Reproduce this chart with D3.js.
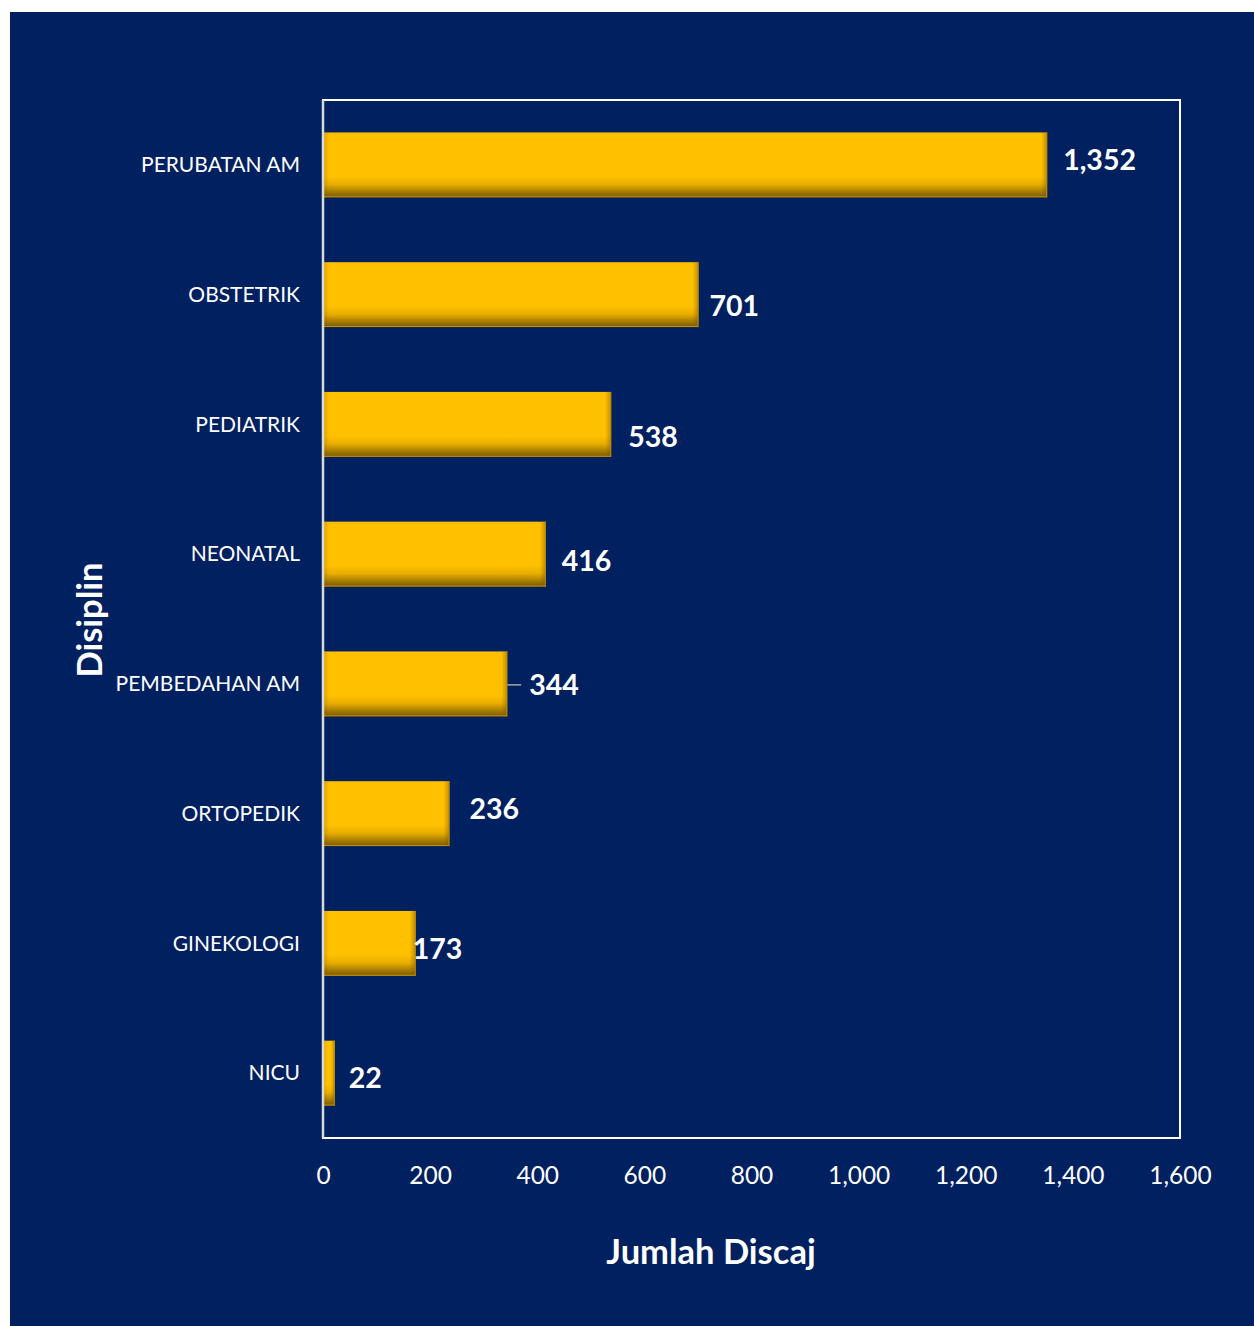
<!DOCTYPE html>
<html><head><meta charset="utf-8">
<script src="https://cdn.jsdelivr.net/npm/d3@7"></script>
<style>html,body{margin:0;padding:0;background:#fff;}svg{display:block;}</style>
</head><body>
<script>
const categories = ["PERUBATAN AM","OBSTETRIK","PEDIATRIK","NEONATAL","PEMBEDAHAN AM","ORTOPEDIK","GINEKOLOGI","NICU"];
const values = [1352,701,538,416,344,236,173,22];
const tickValues = [0,200,400,600,800,1000,1200,1400,1600];
const labelNudgeX = [16,11,17,16,22,20,-3,14];
const labelNudgeY = [-5,11,13,7,1,-5,6,5];
const xTitle = "Jumlah Discaj";
const yTitle = "Disiplin";

const W=1254,H=1326;
const svg=d3.select("body").append("svg").attr("width",W).attr("height",H);
svg.append("rect").attr("x",10).attr("y",12).attr("width",W-10).attr("height",H-12).attr("fill","#002060");

const L=323,R=1180,T=100,B=1138;
const x=d3.scaleLinear().domain([0,1600]).range([L,R]);
const y=d3.scaleBand().domain(categories).range([T,B]).paddingInner(0.5).paddingOuter(0.25);

const defs=svg.append("defs");
const g=defs.append("linearGradient").attr("id","barGrad").attr("x1",0).attr("y1",0).attr("x2",0).attr("y2",1);
[[0,"#FFC000"],[0.68,"#FFC000"],[0.8,"#E8AE00"],[0.92,"#A47A00"],[1,"#7A5A00"]].forEach(([o,c])=>g.append("stop").attr("offset",o).attr("stop-color",c));
const gr=defs.append("linearGradient").attr("id","edgeGrad").attr("x1",0).attr("y1",0).attr("x2",1).attr("y2",0);
[[0,"rgba(120,80,0,0)"],[1,"rgba(120,80,0,0.45)"]].forEach(([o,c])=>gr.append("stop").attr("offset",o).attr("stop-color",c));
const gl=defs.append("linearGradient").attr("id","edgeGradL").attr("x1",0).attr("y1",0).attr("x2",1).attr("y2",0);
[[0,"rgba(120,80,0,0.3)"],[1,"rgba(120,80,0,0)"]].forEach(([o,c])=>gl.append("stop").attr("offset",o).attr("stop-color",c));

const font="Lato, 'Open Sans', sans-serif";

// bars
const bars=svg.append("g");
categories.forEach((c,i)=>{
  const x0=x(0),x1=x(values[i]),yy=y(c),h=y.bandwidth();
  bars.append("rect").attr("x",x0).attr("y",yy).attr("width",x1-x0).attr("height",h).attr("fill","url(#barGrad)");
  const ew=Math.min(6,(x1-x0)/3);
  bars.append("rect").attr("x",x1-ew).attr("y",yy).attr("width",ew).attr("height",h).attr("fill","url(#edgeGrad)");
  bars.append("rect").attr("x",x0).attr("y",yy).attr("width",ew).attr("height",h).attr("fill","url(#edgeGradL)");
  bars.append("line").attr("x1",x0).attr("x2",x1).attr("y1",yy+h-0.5).attr("y2",yy+h-0.5).attr("stroke","#C89200").attr("stroke-width",1);
  bars.append("line").attr("x1",x1-0.5).attr("x2",x1-0.5).attr("y1",yy).attr("y2",yy+h).attr("stroke","#B88A00").attr("stroke-width",1);
});

// plot border
svg.append("rect").attr("x",L).attr("y",T).attr("width",R-L).attr("height",B-T).attr("fill","none").attr("stroke","#ffffff").attr("stroke-width",2);
svg.append("line").attr("x1",L).attr("x2",L).attr("y1",T).attr("y2",B).attr("stroke","#d9d9d9").attr("stroke-width",2.5);

// value labels
const fmt=d3.format(",");
categories.forEach((c,i)=>{
  const lx=x(values[i])+labelNudgeX[i], ly=y(c)+y.bandwidth()/2+labelNudgeY[i];
  if(labelNudgeX[i]>20){
    svg.append("line").attr("x1",x(values[i])).attr("x2",lx-8).attr("y1",ly).attr("y2",ly).attr("stroke","#a6a6a6").attr("stroke-width",1.5);
  }
  svg.append("text").attr("x",lx).attr("y",ly).attr("dy","0.35em").attr("fill","#fff")
    .attr("font-family",font).attr("font-weight","bold").attr("font-size",28.5).text(fmt(values[i]));
});

// category labels
categories.forEach(c=>{
  svg.append("text").attr("x",300).attr("y",y(c)+y.bandwidth()/2).attr("dy","0.35em").attr("text-anchor","end")
    .attr("fill","#fff").attr("font-family",font).attr("font-size",21).text(c);
});

// x axis tick labels
const xa=svg.append("g").attr("transform",`translate(0,${B})`).call(d3.axisBottom(x).tickValues(tickValues).tickFormat(fmt).tickSize(0).tickPadding(29));
xa.select(".domain").remove();
xa.selectAll("text").attr("fill","#fff").attr("font-family",font).attr("font-size",24.5);

// titles
svg.append("text").attr("x",711).attr("y",1252).attr("dy","0.35em").attr("text-anchor","middle").attr("fill","#fff")
  .attr("font-family",font).attr("font-weight","bold").attr("font-size",34.5).text(xTitle);
svg.append("text").attr("transform","translate(90,620) rotate(-90)").attr("dy","0.35em").attr("text-anchor","middle").attr("fill","#fff")
  .attr("font-family",font).attr("font-weight","bold").attr("font-size",34.5).text(yTitle);
</script>
</body></html>
